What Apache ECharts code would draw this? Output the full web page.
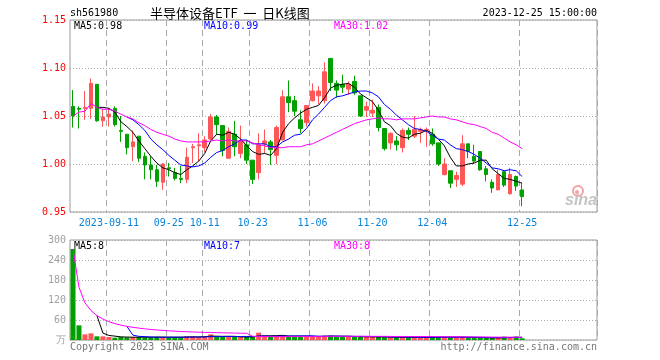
<!DOCTYPE html>
<html><head><meta charset="utf-8">
<script src="https://cdn.jsdelivr.net/npm/echarts/dist/echarts.min.js"></script>
<style>html,body{margin:0;padding:0;background:#fff}#c{width:660px;height:360px}</style>
</head><body><div id="c"></div>
<script>
// ---------------- data ----------------
const dates = ['2023-09-01','2023-09-04','2023-09-05','2023-09-06','2023-09-07','2023-09-08','2023-09-11','2023-09-12','2023-09-13','2023-09-14',
'2023-09-15','2023-09-18','2023-09-19','2023-09-20','2023-09-21','2023-09-22','2023-09-25','2023-09-26','2023-09-27','2023-09-28',
'2023-10-09','2023-10-10','2023-10-11','2023-10-12','2023-10-13','2023-10-16','2023-10-17','2023-10-18','2023-10-19','2023-10-20',
'2023-10-23','2023-10-24','2023-10-25','2023-10-26','2023-10-27','2023-10-30','2023-10-31','2023-11-01','2023-11-02','2023-11-03',
'2023-11-06','2023-11-07','2023-11-08','2023-11-09','2023-11-10','2023-11-13','2023-11-14','2023-11-15','2023-11-16','2023-11-17',
'2023-11-20','2023-11-21','2023-11-22','2023-11-23','2023-11-24','2023-11-27','2023-11-28','2023-11-29','2023-11-30','2023-12-01',
'2023-12-04','2023-12-05','2023-12-06','2023-12-07','2023-12-08','2023-12-11','2023-12-12','2023-12-13','2023-12-14','2023-12-15',
'2023-12-18','2023-12-19','2023-12-20','2023-12-21','2023-12-22','2023-12-25'];

const opens = [1.060,1.058,1.058,1.058,1.083,1.045,1.049,1.058,1.035,1.031,
1.018,1.029,1.008,0.999,0.994,0.981,0.996,0.991,0.985,0.984,
1.017,1.019,1.017,1.026,1.049,1.040,1.006,1.031,1.011,1.020,
1.004,0.991,1.021,1.023,1.009,1.025,1.070,1.066,1.046,1.043,
1.066,1.071,1.066,1.110,1.084,1.083,1.078,1.086,1.071,1.056,
1.053,1.059,1.037,1.022,1.024,1.017,1.035,1.029,1.034,1.035,
1.031,1.022,0.989,0.993,0.984,0.979,1.021,1.008,1.013,0.995,
0.981,0.973,0.992,0.969,0.987,0.973];
const closes = [1.050,1.057,1.059,1.084,1.045,1.049,1.052,1.041,1.034,1.017,
1.023,1.006,0.999,0.994,0.982,1.000,0.995,0.985,0.984,1.007,
1.018,1.020,1.025,1.049,1.041,1.014,1.034,1.018,1.024,1.004,
0.984,1.020,1.024,1.015,1.038,1.070,1.064,1.055,1.037,1.061,
1.076,1.076,1.096,1.085,1.077,1.080,1.083,1.074,1.050,1.060,
1.056,1.038,1.016,1.032,1.020,1.035,1.031,1.036,1.036,1.036,
1.021,1.000,1.000,0.980,0.988,1.021,1.013,1.003,0.994,0.989,
0.975,0.989,0.978,0.989,0.977,0.966];
const highs = [1.077,1.060,1.076,1.089,1.083,1.057,1.058,1.060,1.050,1.031,
1.035,1.029,1.012,1.008,0.999,1.001,1.001,0.996,0.998,1.017,
1.021,1.032,1.029,1.052,1.051,1.040,1.038,1.045,1.040,1.025,
1.004,1.032,1.036,1.025,1.040,1.077,1.087,1.071,1.056,1.061,
1.084,1.081,1.106,1.110,1.087,1.093,1.086,1.092,1.071,1.065,
1.067,1.062,1.037,1.033,1.029,1.037,1.038,1.050,1.038,1.038,
1.037,1.022,1.006,0.993,0.992,1.030,1.021,1.020,1.013,0.998,
0.984,0.994,0.992,0.996,0.988,0.980];
const lows = [1.038,1.037,1.046,1.047,1.044,1.039,1.039,1.039,1.023,1.010,
1.003,1.002,0.984,0.984,0.976,0.973,0.987,0.983,0.980,0.980,
1.001,1.003,1.012,1.025,1.031,1.008,1.006,1.008,1.006,1.000,
0.979,0.984,1.011,0.999,1.000,1.025,1.054,1.050,1.032,1.039,
1.065,1.062,1.063,1.076,1.069,1.074,1.072,1.072,1.049,1.049,
1.049,1.034,1.014,1.015,1.014,1.012,1.025,1.027,1.022,1.018,
1.019,0.998,0.988,0.975,0.976,0.977,1.006,1.000,0.993,0.982,
0.970,0.973,0.976,0.968,0.972,0.956];

const ma5 = [null,null,null,null,1.059,1.059,1.058,1.054,1.044,1.039,
1.033,1.024,1.016,1.008,1.001,0.996,0.994,0.991,0.989,0.994,
0.998,1.003,1.011,1.024,1.031,1.030,1.033,1.031,1.026,1.019,
1.013,1.010,1.011,1.009,1.016,1.033,1.042,1.048,1.053,1.057,
1.059,1.061,1.069,1.079,1.082,1.083,1.084,1.080,1.073,1.069,
1.065,1.056,1.044,1.040,1.032,1.028,1.027,1.031,1.032,1.035,
1.032,1.026,1.019,1.007,0.998,0.998,1.000,1.001,1.004,1.004,
0.995,0.990,0.985,0.984,0.982,0.980];
const ma10 = [null,null,null,null,null,null,null,null,null,1.049,
1.046,1.041,1.035,1.026,1.020,1.015,1.009,1.004,0.999,0.998,
0.997,0.998,1.001,1.007,1.012,1.014,1.018,1.021,1.025,1.025,
1.021,1.021,1.021,1.018,1.018,1.023,1.026,1.030,1.031,1.037,
1.046,1.052,1.059,1.066,1.070,1.071,1.073,1.075,1.076,1.076,
1.074,1.070,1.062,1.057,1.051,1.046,1.041,1.037,1.036,1.034,
1.030,1.026,1.025,1.020,1.016,1.015,1.013,1.010,1.006,1.001,
0.996,0.995,0.993,0.994,0.993,0.987];
const ma30 = [1.050,1.054,1.055,1.063,1.059,1.057,1.057,1.055,1.052,1.049,
1.047,1.043,1.040,1.036,1.033,1.031,1.029,1.026,1.024,1.023,
1.023,1.023,1.023,1.024,1.025,1.024,1.025,1.024,1.024,1.024,
1.022,1.020,1.019,1.017,1.017,1.017,1.018,1.018,1.018,1.020,
1.021,1.024,1.027,1.030,1.033,1.036,1.039,1.042,1.044,1.046,
1.047,1.048,1.047,1.047,1.046,1.047,1.047,1.047,1.048,1.049,
1.050,1.049,1.049,1.047,1.046,1.044,1.042,1.041,1.039,1.037,
1.033,1.031,1.027,1.023,1.020,1.016];

const volumes = [273,44,17,20,11,11,9,7,9,8, 9,9,8,8,9,9,8,8,8,11,
11,9,10,17,10,9,10,9,9,9, 10,22,13,10,11,14,12,11,10,11,
11,10,13,13,11,10,10,9,10,9, 9,9,8,8,8,9,8,8,8,8,
9,9,9,8,8,9,7,7,6,6, 6,6,10,9,10,5];
const vma5 = [null,null,null,null,73.0,20.6,13.6,11.6,9.4,8.8,
8.4,8.4,8.6,8.4,8.6,8.6,8.4,8.4,8.4,8.8,
9.2,9.4,9.8,11.6,11.4,11.0,11.2,11.0,9.4,9.2,
9.4,11.8,12.6,12.8,13.2,14.0,12.0,11.6,11.6,11.6,
11.0,10.6,11.0,11.6,11.6,11.4,11.4,10.6,10.0,9.6,
9.4,9.2,9.0,8.6,8.4,8.4,8.2,8.2,8.2,8.2,
8.2,8.4,8.6,8.6,8.6,8.6,8.2,7.8,7.4,7.0,
6.4,6.2,6.8,7.4,8.2,8.0];
const vma10 = [null,null,null,null,null,null,null,null,null,40.9,
14.5,11.0,10.1,8.9,8.7,8.5,8.4,8.5,8.4,8.7,
8.9,8.9,9.1,10.0,10.1,10.1,10.3,10.4,10.5,10.3,
10.2,11.5,11.8,11.1,11.2,11.7,11.9,12.1,12.2,12.4,
12.5,11.3,11.3,11.6,11.6,11.2,11.0,10.8,10.8,10.6,
10.4,10.3,9.8,9.3,9.0,8.9,8.7,8.6,8.4,8.3,
8.3,8.3,8.4,8.4,8.4,8.4,8.3,8.2,8.0,7.8,
7.5,7.2,7.3,7.4,7.6,7.2];
const vma30 = [273.0,158.5,111.3,88.5,73.0,62.7,55.0,49.0,44.6,40.9,
38.0,35.6,33.5,31.6,30.1,28.8,27.6,26.5,25.5,24.8,
24.1,23.5,22.9,22.6,22.1,21.6,21.2,20.8,20.3,20.0,
11.2,10.5,10.3,10.0,10.0,10.1,10.2,10.3,10.4,10.5,
10.5,10.6,10.7,10.9,11.0,11.0,11.1,11.1,11.2,11.1,
11.0,11.0,11.0,10.7,10.6,10.6,10.5,10.5,10.5,10.4,
10.4,10.0,9.8,9.8,9.7,9.5,9.3,9.2,9.1,8.9,
8.7,8.6,8.5,8.4,8.3,8.2];

const tickDates = ['2023-09-11','2023-09-25','2023-10-11','2023-10-23','2023-11-06','2023-11-20','2023-12-04','2023-12-25'];
const tickLabels = ['2023-09-11','09-25','10-11','10-23','11-06','11-20','12-04','12-25'];
const priceTicks = [0.95, 1.00, 1.05, 1.10, 1.15];
const volTicks = [0, 60, 120, 180, 240, 300];

// ---------------- chart ----------------
const SLOTS = 88; // visible day slots on the time axis
const cats = dates.concat(new Array(SLOTS - dates.length).fill(''));
const isTick = (i) => cats[i] !== '' && tickDates.indexOf(cats[i]) >= 0;
const MONO = '"DejaVu Sans Mono","Liberation Mono",monospace';
const UP = '#ff5757', DOWN = '#00a000';
const C5 = '#000000', C10 = '#0000ff', C30 = '#ff00ff';
const GRID_C = '#aaaaaa';

const kdata = dates.map((d, i) => [opens[i], closes[i], lows[i], highs[i]]);
const vdata = volumes.map((v, i) => ({value: v, itemStyle: {color: closes[i] >= opens[i] ? UP : DOWN}}));
const last = dates.length - 1;

const xCommon = (gi, showLabel) => ({
  type: 'category', gridIndex: gi, data: cats, boundaryGap: true,
  axisLine: {show: false}, axisTick: {show: false},
  axisLabel: {show: showLabel, interval: (i) => isTick(i), formatter: (v) => tickLabels[tickDates.indexOf(v)] || '',
    color: '#0a84d6', fontFamily: MONO, fontSize: 10, margin: 6},
  splitLine: {show: true, interval: (i) => isTick(i), lineStyle: {color: GRID_C, type: [6, 4], width: 1}}
});

const lineS = (name, data, color, xi, yi) => ({
  name, type: 'line', data, xAxisIndex: xi, yAxisIndex: yi, symbol: 'none', silent: true,
  lineStyle: {color, width: 1}, itemStyle: {color}, z: 5
});

const txt = (x, y, text, fill, extra) => Object.assign({
  type: 'text', x, y, silent: true,
  style: Object.assign({text, fill, font: '10px ' + MONO, verticalAlign: 'middle', align: 'left'}, extra || {})
});

const chart = echarts.init(document.getElementById('c'), null, {renderer: 'canvas'});
chart.setOption({
  animation: false,
  backgroundColor: '#ffffff',
  grid: [
    {left: 70, top: 20, width: 527, height: 192, show: true, borderColor: '#999', borderWidth: 1, backgroundColor: 'transparent'},
    {left: 70, top: 240, width: 527, height: 100, show: true, borderColor: '#999', borderWidth: 1, backgroundColor: 'transparent'}
  ],
  xAxis: [xCommon(0, true), xCommon(1, false)],
  yAxis: [
    {type: 'value', gridIndex: 0, min: priceTicks[0], max: priceTicks[priceTicks.length - 1], interval: 0.05,
      axisLine: {show: false}, axisTick: {show: false},
      axisLabel: {color: '#ff0000', fontFamily: MONO, fontSize: 10, margin: 4, showMinLabel: true, showMaxLabel: true,
        formatter: (v) => v.toFixed(2)},
      splitLine: {show: true, lineStyle: {color: GRID_C, type: [1, 2], width: 1}}},
    {type: 'value', gridIndex: 1, min: volTicks[0], max: volTicks[volTicks.length - 1], interval: 60,
      axisLine: {show: false}, axisTick: {show: false},
      axisLabel: {color: '#a0a0a0', fontFamily: MONO, fontSize: 10, margin: 4, showMinLabel: true, showMaxLabel: true,
        formatter: (v) => v === 0 ? '万' : String(v)},
      splitLine: {show: true, lineStyle: {color: GRID_C, type: [1, 2], width: 1}}}
  ],
  series: [
    {type: 'candlestick', xAxisIndex: 0, yAxisIndex: 0, data: kdata, barWidth: 4, silent: true,
      itemStyle: {color: UP, color0: DOWN, borderColor: UP, borderColor0: DOWN, borderWidth: 1}},
    lineS('MA5', ma5, C5, 0, 0),
    lineS('MA10', ma10, C10, 0, 0),
    lineS('MA30', ma30, C30, 0, 0),
    {type: 'bar', xAxisIndex: 1, yAxisIndex: 1, data: vdata, barWidth: 5, silent: true},
    lineS('VMA5', vma5, C5, 1, 1),
    lineS('VMA10', vma10, C10, 1, 1),
    lineS('VMA30', vma30, C30, 1, 1)
  ],
  graphic: [
    txt(70, 13, 'sh561980', '#000'),
    txt(150, 13, '半导体设备ETF  一  日K线图', '#000', {font: '13px "Noto Sans CJK SC", sans-serif'}),
    txt(597, 13, '2023-12-25 15:00:00', '#000', {align: 'right'}),
    txt(74, 26, 'MA5:' + ma5[last].toFixed(2), C5),
    txt(204, 26, 'MA10:' + ma10[last].toFixed(2), C10),
    txt(334, 26, 'MA30:' + ma30[last].toFixed(2), C30),
    txt(74, 246, 'MA5:' + Math.round(vma5[last]), C5),
    txt(204, 246, 'MA10:' + Math.round(vma10[last]), C10),
    txt(334, 246, 'MA30:' + Math.round(vma30[last]), C30),
    txt(70, 347, 'Copyright 2023 SINA.COM', '#777'),
    txt(597, 347, 'http://finance.sina.com.cn', '#777', {align: 'right'}),
    {type: 'circle', silent: true, shape: {cx: 578, cy: 191, r: 5}, style: {fill: 'none', stroke: '#f3a3a3', lineWidth: 2}},
    {type: 'circle', silent: true, shape: {cx: 577, cy: 192, r: 2}, style: {fill: '#f3a3a3'}},
    txt(565, 201, 'sina', '#c4c4c4', {font: 'italic bold 16px "Liberation Sans", sans-serif'})
  ]
});
</script></body></html>
